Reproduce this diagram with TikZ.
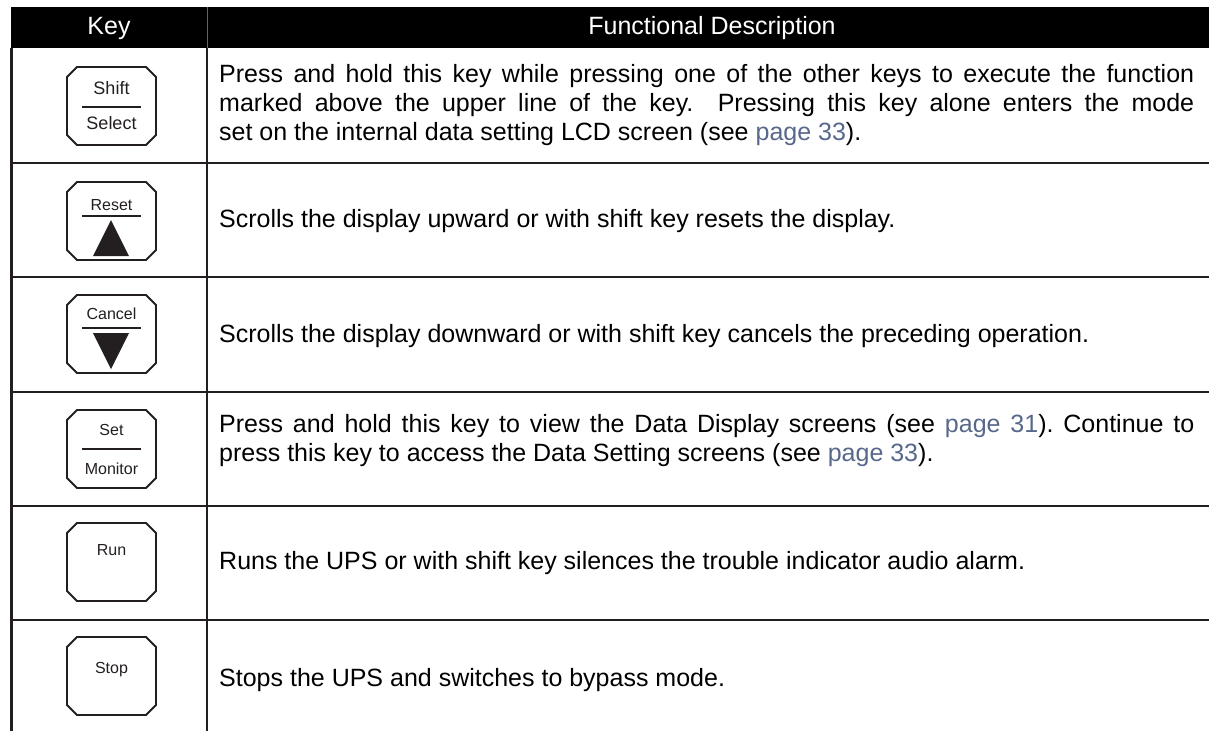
\documentclass[tikz,border=0pt]{standalone}
\usepackage{fontspec}
\setmainfont{Liberation Sans}
\definecolor{rulecol}{RGB}{35,31,32}
\definecolor{pagecol}{RGB}{88,104,138}
\newcommand{\pg}[1]{\textcolor{pagecol}{page #1}}
\newcommand{\keyframe}[2]{%
  \draw[keyline] ({#1+10},{#2}) -- ({#1+79},{#2}) -- ({#1+89},{#2+10}) -- ({#1+89},{#2+68})
    -- ({#1+79},{#2+78}) -- ({#1+10},{#2+78}) -- ({#1},{#2+68}) -- ({#1},{#2+10}) -- cycle;}
\begin{document}
\frenchspacing
\begin{tikzpicture}[x=1pt,y=-1pt,
  tableline/.style={draw=rulecol, line width=2.6pt},
  keyline/.style={draw=rulecol, line width=1.8pt, line join=miter},
  keybar/.style={draw=rulecol, line width=2pt},
  keytext/.style={font=\fontsize{16}{18}\selectfont, inner sep=0pt, text=rulecol},
  bigkeytext/.style={font=\fontsize{18}{20}\selectfont, inner sep=0pt, text=rulecol},
  hdrtext/.style={font=\fontsize{25}{28}\selectfont, text=white, inner sep=0pt},
  desc/.style={font=\fontsize{25}{29}\selectfont, anchor=west, inner sep=0pt, text width=975pt, align=justify, text=black},
  tri/.style={fill=rulecol, draw=none}]
\useasboundingbox (0,0) rectangle (1209,731);
% header
\fill[black] (11,7) rectangle (1209,48);
\draw[draw=rulecol!70, line width=1pt] (207,7) -- (207,48);
\node[hdrtext] (hkey) at (109,28) {Key};
\node[hdrtext] (hdesc) at (712,28) {Functional Description};
% grid
\draw[tableline] (11.5,48) -- (11.5,731);
\draw[tableline] (207,48) -- (207,731);
\foreach \y in {163,277,392,506,620}{\draw[tableline] (10.2,\y) -- (1209,\y);}
% key 1: Shift / Select
\keyframe{67}{67}
\node[bigkeytext] (k1a) at (111.5,88) {Shift};
\coordinate (b1l) at (82,107); \coordinate (b1r) at (141,107);
\draw[keybar] (b1l) -- (b1r);
\node[bigkeytext] (k1b) at (111.5,123) {Select};
% key 2: Reset / up
\keyframe{67}{182}
\node[keytext] (k2a) at (111.5,205) {Reset};
\coordinate (b2l) at (82,216); \coordinate (b2r) at (141,216);
\draw[keybar] (b2l) -- (b2r);
\coordinate (t2a) at (111,220); \coordinate (t2l) at (93,256); \coordinate (t2r) at (129,256);
\fill[tri] (t2a) -- (t2r) -- (t2l) -- cycle;
% key 3: Cancel / down
\keyframe{67}{295}
\node[keytext] (k3a) at (111.5,314) {Cancel};
\coordinate (b3l) at (82,328); \coordinate (b3r) at (141,328);
\draw[keybar] (b3l) -- (b3r);
\coordinate (t3a) at (111,369); \coordinate (t3l) at (93,333); \coordinate (t3r) at (129,333);
\fill[tri] (t3a) -- (t3r) -- (t3l) -- cycle;
% key 4: Set / Monitor
\keyframe{67}{410}
\node[keytext] (k4a) at (111.5,430) {Set};
\coordinate (b4l) at (82,449); \coordinate (b4r) at (141,449);
\draw[keybar] (b4l) -- (b4r);
\node[keytext] (k4b) at (111.5,469) {Monitor};
% key 5: Run
\keyframe{67}{523}
\node[keytext] (k5a) at (111.5,550) {Run};
% key 6: Stop
\keyframe{67}{637}
\node[keytext] (k6a) at (111.5,670) {Stop};
% descriptions
\node[desc] (d1) at (219,105.5) {Press and hold this key while pressing one of the other keys to execute the function\linebreak marked above the upper line of the key.\ \ Pressing this key alone enters the mode\linebreak set on the internal data setting LCD screen (see \pg{33}).};
\node[desc] (d2) at (219,221.5) {Scrolls the display upward or with shift key resets the display.};
\node[desc] (d3) at (219,336) {Scrolls the display downward or with shift key cancels the preceding operation.};
\node[desc] (d4) at (219,441) {Press and hold this key to view the Data Display screens (see \pg{31}). Continue to\linebreak press this key to access the Data Setting screens (see \pg{33}).};
\node[desc] (d5) at (219,563) {Runs the UPS or with shift key silences the trouble indicator audio alarm.};
\node[desc] (d6) at (219,680) {Stops the UPS and switches to bypass mode.};
\end{tikzpicture}
\end{document}
